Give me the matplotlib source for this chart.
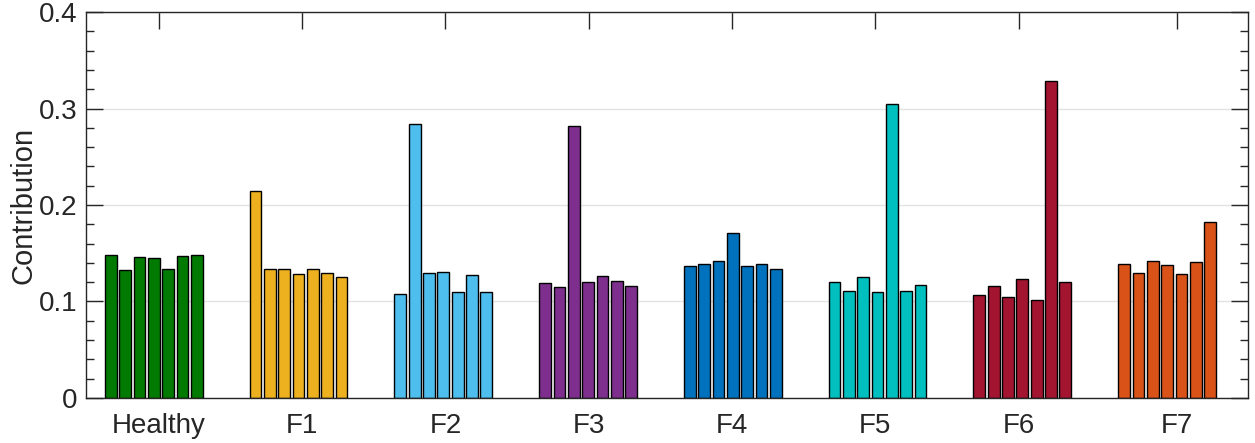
import numpy as np
import matplotlib.pyplot as plt
from matplotlib.ticker import MultipleLocator

plt.rcParams['font.family'] = ['Liberation Sans', 'DejaVu Sans']

groups = ['Healthy', 'F1', 'F2', 'F3', 'F4', 'F5', 'F6', 'F7']
healthy = [0.148, 0.133, 0.146, 0.145, 0.134, 0.147, 0.148]
f1 = [0.214, 0.134, 0.134, 0.128, 0.134, 0.130, 0.125]
f2 = [0.108, 0.284, 0.130, 0.131, 0.110, 0.127, 0.110]
f3 = [0.119, 0.115, 0.282, 0.120, 0.126, 0.121, 0.116]
f4 = [0.137, 0.139, 0.142, 0.171, 0.137, 0.139, 0.134]
f5 = [0.120, 0.111, 0.125, 0.110, 0.305, 0.111, 0.117]
f6 = [0.107, 0.116, 0.105, 0.123, 0.102, 0.329, 0.120]
f7 = [0.139, 0.130, 0.142, 0.138, 0.128, 0.141, 0.182]
values = [healthy, f1, f2, f3, f4, f5, f6, f7]
colors = ['#007A00', '#EDB120', '#4DBEEE', '#7E2F8E', '#0072BD', '#00BFBF', '#A2142F', '#D95319']

txt = '#262626'
fig = plt.figure(figsize=(12.55, 4.43), dpi=100)
ax = fig.add_axes([0.0685, 0.1016, 0.926, 0.8713])

gap = 10.1  # spacing between group starts, in bar units
for g, (vals, c) in enumerate(zip(values, colors)):
    x = g * gap + np.arange(len(vals))
    ax.bar(x, vals, width=0.82, color=c, edgecolor='black', linewidth=1.0, zorder=2)

tick_pos = [3.35 + 10 * g for g in range(7)] + [74.4]
ax.set_xticks(tick_pos)
ax.set_xticklabels(groups)
ax.set_xlim(-1.73, 79.35)
ax.set_ylim(0, 0.4)
ax.set_yticks([0, 0.1, 0.2, 0.3, 0.4])
ax.set_yticklabels(['0', '0.1', '0.2', '0.3', '0.4'])
ax.yaxis.set_minor_locator(MultipleLocator(0.02))
ax.set_ylabel('Contribution', fontsize=21, color=txt, labelpad=1)

ax.grid(axis='y', which='major', color='#E3E3E3', linewidth=1.0, zorder=0)
ax.set_axisbelow(True)
ax.tick_params(axis='both', which='both', direction='in', top=True, right=True,
               color=txt, labelcolor=txt, labelsize=20, width=1.0)
ax.tick_params(axis='both', which='major', length=12)
ax.tick_params(axis='y', which='minor', length=6)
ax.tick_params(axis='x', which='major', pad=11)
ax.tick_params(axis='y', which='major', pad=6)
for s in ax.spines.values():
    s.set_color(txt)
    s.set_linewidth(1.0)
    s.set_zorder(5)

fig.savefig('out.png', dpi=100)
